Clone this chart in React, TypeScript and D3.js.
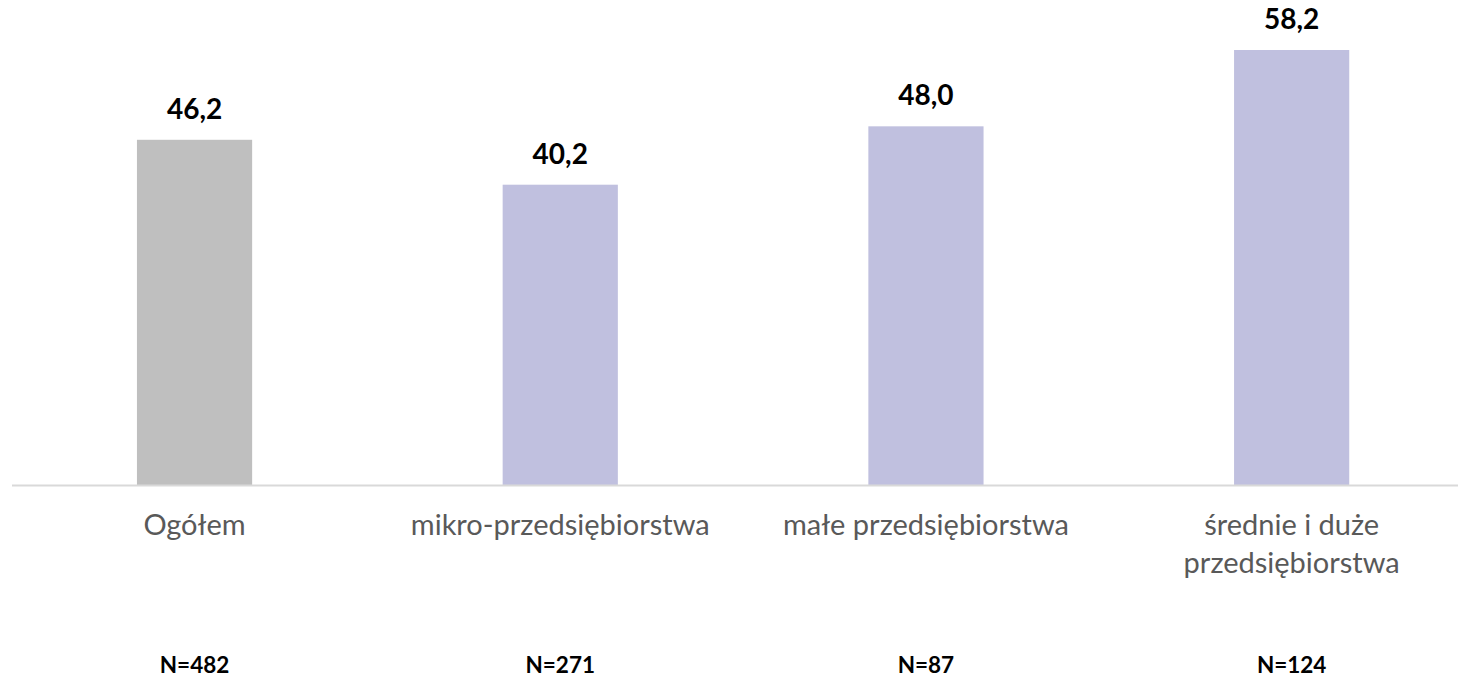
import React, { useEffect, useRef } from 'react';
import * as d3 from 'd3';

const categories = ['Ogółem', 'mikro-przedsiębiorstwa', 'małe przedsiębiorstwa', 'średnie i duże przedsiębiorstwa'];
const labelLines = [['Ogółem'], ['mikro-przedsiębiorstwa'], ['małe przedsiębiorstwa'], ['średnie i duże', 'przedsiębiorstwa']];
const values = [46.2, 40.2, 48.0, 58.2];
const sampleSizes = ['N=482', 'N=271', 'N=87', 'N=124'];
const barColors = ['#bfbfbf', '#c0c0df', '#c0c0df', '#c0c0df'];

const WIDTH = 1458;
const HEIGHT = 679;

export default function App() {
  const svgRef = useRef<SVGSVGElement | null>(null);

  useEffect(() => {
    document.body.style.margin = '0';
    const svg = d3.select(svgRef.current);
    svg.selectAll('*').remove();

    const baseline = 485.5;
    const x = d3.scaleBand<string>().domain(categories).range([11.7, 1474.5]).padding(0);
    const y = d3.scaleLinear().domain([0, 58.2]).range([baseline, 50]);
    const barW = x.bandwidth() * 0.315;
    const font = 'Lato, Calibri, sans-serif';

    const g = svg.append('g');

    // bars
    g.selectAll('rect.bar')
      .data(values)
      .enter()
      .append('rect')
      .attr('class', 'bar')
      .attr('x', (d, i) => x(categories[i])! + x.bandwidth() / 2 - barW / 2)
      .attr('width', barW)
      .attr('y', d => y(d))
      .attr('height', d => baseline - y(d))
      .attr('fill', (d, i) => barColors[i]);

    // axis line
    g.append('line')
      .attr('x1', 12)
      .attr('x2', WIDTH)
      .attr('y1', baseline)
      .attr('y2', baseline)
      .attr('stroke', '#d9d9d9')
      .attr('stroke-width', 2);

    // value labels
    g.selectAll('text.value')
      .data(values)
      .enter()
      .append('text')
      .attr('class', 'value')
      .attr('x', (d, i) => x(categories[i])! + x.bandwidth() / 2)
      .attr('y', d => y(d) - 21)
      .attr('text-anchor', 'middle')
      .style('font-family', font)
      .style('font-size', '28px')
      .style('font-weight', '700')
      .style('fill', '#000')
      .text(d => d.toFixed(1).replace('.', ','));

    // category labels
    labelLines.forEach((lines, i) => {
      const t = g.append('text')
        .attr('x', x(categories[i])! + x.bandwidth() / 2)
        .attr('y', 535)
        .attr('text-anchor', 'middle')
        .style('font-family', font)
        .style('font-size', '29px')
        .style('fill', '#595959');
      lines.forEach((line, j) => {
        t.append('tspan')
          .attr('x', x(categories[i])! + x.bandwidth() / 2)
          .attr('dy', j === 0 ? 0 : 38)
          .text(line);
      });
    });

    // sample sizes
    g.selectAll('text.n')
      .data(sampleSizes)
      .enter()
      .append('text')
      .attr('class', 'n')
      .attr('x', (d, i) => x(categories[i])! + x.bandwidth() / 2)
      .attr('y', 673)
      .attr('text-anchor', 'middle')
      .style('font-family', font)
      .style('font-size', '22.5px')
      .style('font-weight', '700')
      .style('fill', '#000')
      .text(d => d);
  }, []);

  return (
    <svg
      ref={svgRef}
      width={WIDTH}
      height={HEIGHT}
      style={{ display: 'block', position: 'absolute', left: 0, top: 0, background: '#fff' }}
    />
  );
}
